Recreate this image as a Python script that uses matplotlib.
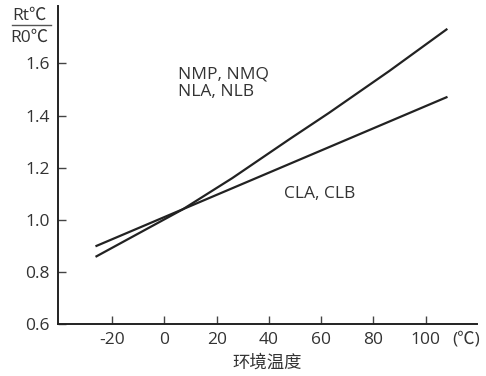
import matplotlib
matplotlib.use("Agg")
import matplotlib.pyplot as plt
from matplotlib.lines import Line2D

plt.rcParams['font.family'] = ['Open Sans', 'Noto Sans CJK SC', 'DejaVu Sans']
plt.rcParams['axes.unicode_minus'] = False

# 环境温度 (℃) 与 Rt/R0
temp_nmp = [-26, 7, 26, 48, 63, 86, 108]
ratio_nmp = [0.86, 1.04, 1.16, 1.31, 1.41, 1.57, 1.73]

temp_cla = [-26, 108]
ratio_cla = [0.90, 1.47]

xticks = [-20, 0, 20, 40, 60, 80, 100]
yticks = [0.6, 0.8, 1.0, 1.2, 1.4, 1.6]

fs = 12.5
tc = '#333333'

fig = plt.figure(figsize=(4.86, 3.76), dpi=100)
ax = fig.add_axes([0.119, 0.138, 0.862, 0.846])

col = '#222222'
ax.plot(temp_nmp, ratio_nmp, color=col, lw=1.6)
ax.plot(temp_cla, ratio_cla, color=col, lw=1.6)

ax.set_xlim(-40.8, 119.6)
ax.set_ylim(0.6, 1.82)
ax.set_xticks(xticks)
ax.set_yticks(yticks)
ax.set_yticklabels([f'{v:.1f}' for v in yticks])

for s in ['top', 'right']:
    ax.spines[s].set_visible(False)
for s in ['left', 'bottom']:
    ax.spines[s].set_linewidth(1.4)
    ax.spines[s].set_color(col)
ax.tick_params(direction='in', length=6, width=1.0, color='#444444',
               labelsize=fs, labelcolor=tc, pad=6)

ax.set_xlabel('环境温度', fontsize=fs, color=tc, labelpad=5)

ax.text(5.3, 1.525, 'NMP, NMQ\nNLA, NLB', fontsize=fs, color=tc,
        va='center', ha='left', linespacing=1.15)
ax.text(45.8, 1.10, 'CLA, CLB', fontsize=fs, color=tc,
        va='center', ha='left')

# (℃) at end of x axis
fig.text(466 / 486, 1 - 340 / 376, '(℃)', fontsize=fs, color=tc,
         ha='center', va='center')

# y axis label as fraction
fig.text(29 / 486, 1 - 20 / 376, 'Rt℃', fontsize=fs, color=tc,
         ha='center', va='baseline')
fig.text(29 / 486, 1 - 42 / 376, 'R0℃', fontsize=fs, color=tc,
         ha='center', va='baseline')
fig.add_artist(Line2D([12 / 486, 51 / 486], [1 - 25 / 376, 1 - 25 / 376],
                      color='#555555', lw=1.0))

fig.savefig('out.png', dpi=100)
